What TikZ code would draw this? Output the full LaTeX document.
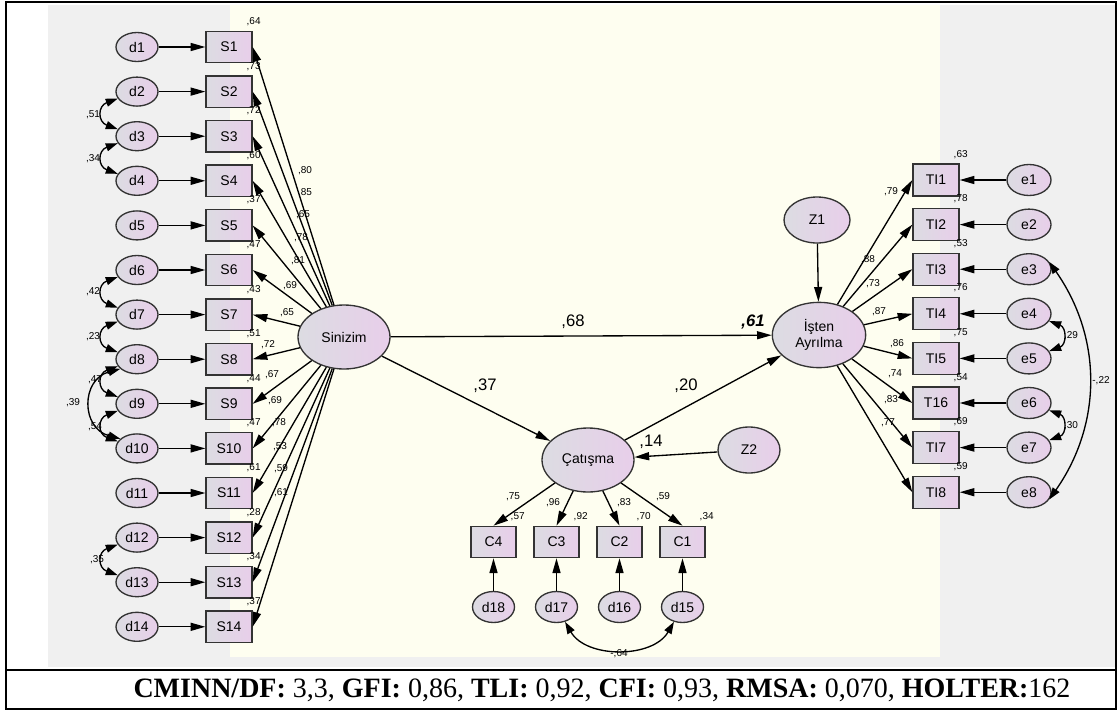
\documentclass[tikz,border=0pt]{standalone}
\usepackage{fontspec}
\setmainfont{Liberation Sans}
\newfontfamily\footfont{Liberation Serif}
\usetikzlibrary{shapes.geometric, arrows.meta}

\definecolor{amosgray}{RGB}{220,220,226}
\definecolor{amospink}{RGB}{232,206,234}
\definecolor{panelgray}{RGB}{240,240,240}
\definecolor{panelyellow}{RGB}{254,254,240}

\begin{document}
\begin{tikzpicture}[
    x=0.75pt, y=-0.75pt,
    lat/.style={ellipse, draw=black!80, line width=1pt, left color=amosgray, right color=amospink, inner sep=0pt, align=center, font=\fontsize{10.5}{11.5}\selectfont},
    err/.style={lat, minimum width=31.5pt, minimum height=21.75pt},
    obs/.style={rectangle, draw=black!80, line width=1pt, left color=amosgray, right color=amospink, minimum width=34.5pt, minimum height=23.5pt, inner sep=0pt, font=\fontsize{10.5}{11.5}\selectfont},
    arrow/.style={->, line width=1pt, >={Triangle[length=11pt, width=6pt]}},
    cov/.style={<->, line width=1pt, >={Triangle[length=9pt, width=6pt]}},
    lbl/.style={font=\fontsize{7.5}{8.5}\selectfont, inner sep=0pt},
    coef/.style={font=\fontsize{12.5}{14}\selectfont, inner sep=0pt}
]
    \useasboundingbox (0,0) rectangle (1117,711);

    % Panels and frame
    \fill[panelgray] (48,5) rectangle (1115,667);
    \fill[panelyellow] (230,5) rectangle (940,657);
    \draw[line width=2.2pt] (6,2) rectangle (1116,709);
    \draw[line width=1.5pt] (6,670) -- (1116,670);

    % Latent variables
    \node[lat, minimum width=69pt, minimum height=48pt] (sin) at (344,337) {Sinizim};
    \node[lat, minimum width=69pt, minimum height=48pt] (cat) at (588,460) {Çatışma};
    \node[lat, minimum width=70pt, minimum height=49pt] (ist) at (819,335) {İşten\\Ayrılma};
    \node[lat, minimum width=49.5pt, minimum height=34.5pt] (z1) at (817,220) {Z1};
    \node[lat, minimum width=46.5pt, minimum height=34.5pt] (z2) at (749,450) {Z2};

    % Sinizim indicators
    \node[err] (d1) at (137,47) {d1};       \node[obs] (s1) at (229,47) {S1};
    \node[err] (d2) at (137,91.6) {d2};     \node[obs] (s2) at (229,91.6) {S2};
    \node[err] (d3) at (137,136.2) {d3};    \node[obs] (s3) at (229,136.2) {S3};
    \node[err] (d4) at (137,180.8) {d4};    \node[obs] (s4) at (229,180.8) {S4};
    \node[err] (d5) at (137,225.4) {d5};    \node[obs] (s5) at (229,225.4) {S5};
    \node[err] (d6) at (137,270) {d6};      \node[obs] (s6) at (229,270) {S6};
    \node[err] (d7) at (137,314.6) {d7};    \node[obs] (s7) at (229,314.6) {S7};
    \node[err] (d8) at (137,359.2) {d8};    \node[obs] (s8) at (229,359.2) {S8};
    \node[err] (d9) at (137,403.8) {d9};    \node[obs] (s9) at (229,403.8) {S9};
    \node[err] (d10) at (137,448.4) {d10};  \node[obs] (s10) at (229,448.4) {S10};
    \node[err] (d11) at (137,493) {d11};    \node[obs] (s11) at (229,493) {S11};
    \node[err] (d12) at (137,537.6) {d12};  \node[obs] (s12) at (229,537.6) {S12};
    \node[err] (d13) at (137,582.2) {d13};  \node[obs] (s13) at (229,582.2) {S13};
    \node[err] (d14) at (137,626.8) {d14};  \node[obs] (s14) at (229,626.8) {S14};

    % Catisma indicators
    \node[obs, minimum width=33.75pt] (c4) at (493.5,542) {C4};
    \node[obs, minimum width=33.75pt] (c3) at (556.5,542) {C3};
    \node[obs, minimum width=33.75pt] (c2) at (619.5,542) {C2};
    \node[obs, minimum width=33.75pt] (c1) at (682.5,542) {C1};
    \node[err, minimum height=23.25pt] (d18) at (493.5,607) {d18};
    \node[err, minimum height=23.25pt] (d17) at (556.5,607) {d17};
    \node[err, minimum height=23.25pt] (d16) at (619.5,607) {d16};
    \node[err, minimum height=23.25pt] (d15) at (682.5,607) {d15};

    % Isten Ayrilma indicators
    \node[obs, minimum height=24pt] (t1) at (936,180) {TI1};    \node[err, minimum width=33pt, minimum height=23.25pt] (e1) at (1029,180) {e1};
    \node[obs, minimum height=24pt] (t2) at (936,224.6) {TI2};  \node[err, minimum width=33pt, minimum height=23.25pt] (e2) at (1029,224.6) {e2};
    \node[obs, minimum height=24pt] (t3) at (936,269.2) {TI3};  \node[err, minimum width=33pt, minimum height=23.25pt] (e3) at (1029,269.2) {e3};
    \node[obs, minimum height=24pt] (t4) at (936,313.8) {TI4};  \node[err, minimum width=33pt, minimum height=23.25pt] (e4) at (1029,313.8) {e4};
    \node[obs, minimum height=24pt] (t5) at (936,358.4) {TI5};  \node[err, minimum width=33pt, minimum height=23.25pt] (e5) at (1029,358.4) {e5};
    \node[obs, minimum height=24pt] (t6) at (936,403) {T16};    \node[err, minimum width=33pt, minimum height=23.25pt] (e6) at (1029,403) {e6};
    \node[obs, minimum height=24pt] (t7) at (936,447.6) {TI7};  \node[err, minimum width=33pt, minimum height=23.25pt] (e7) at (1029,447.6) {e7};
    \node[obs, minimum height=24pt] (t8) at (936,492.2) {TI8};  \node[err, minimum width=33pt, minimum height=23.25pt] (e8) at (1029,492.2) {e8};

    % Error arrows
    \draw[arrow] (d1) -- (s1);   \draw[arrow] (d2) -- (s2);   \draw[arrow] (d3) -- (s3);
    \draw[arrow] (d4) -- (s4);   \draw[arrow] (d5) -- (s5);   \draw[arrow] (d6) -- (s6);
    \draw[arrow] (d7) -- (s7);   \draw[arrow] (d8) -- (s8);   \draw[arrow] (d9) -- (s9);
    \draw[arrow] (d10) -- (s10); \draw[arrow] (d11) -- (s11); \draw[arrow] (d12) -- (s12);
    \draw[arrow] (d13) -- (s13); \draw[arrow] (d14) -- (s14);
    \draw[arrow] (d18) -- (c4);  \draw[arrow] (d17) -- (c3);  \draw[arrow] (d16) -- (c2);
    \draw[arrow] (d15) -- (c1);
    \draw[arrow] (e1) -- (t1);   \draw[arrow] (e2) -- (t2);   \draw[arrow] (e3) -- (t3);
    \draw[arrow] (e4) -- (t4);   \draw[arrow] (e5) -- (t5);   \draw[arrow] (e6) -- (t6);
    \draw[arrow] (e7) -- (t7);   \draw[arrow] (e8) -- (t8);

    % Loadings
    \draw[arrow] (sin) -- (s1.east);   \draw[arrow] (sin) -- (s2.east);   \draw[arrow] (sin) -- (s3.east);
    \draw[arrow] (sin) -- (s4.east);   \draw[arrow] (sin) -- (s5.east);   \draw[arrow] (sin) -- (s6.east);
    \draw[arrow] (sin) -- (s7.east);   \draw[arrow] (sin) -- (s8.east);   \draw[arrow] (sin) -- (s9.east);
    \draw[arrow] (sin) -- (s10.east);  \draw[arrow] (sin) -- (s11.east);  \draw[arrow] (sin) -- (s12.east);
    \draw[arrow] (sin) -- (s13.east);  \draw[arrow] (sin) -- (s14.east);
    \draw[arrow] (cat) -- (c4.north);  \draw[arrow] (cat) -- (c3.north);
    \draw[arrow] (cat) -- (c2.north);  \draw[arrow] (cat) -- (c1.north);
    \draw[arrow] (ist) -- (t1.west);   \draw[arrow] (ist) -- (t2.west);   \draw[arrow] (ist) -- (t3.west);
    \draw[arrow] (ist) -- (t4.west);   \draw[arrow] (ist) -- (t5.west);   \draw[arrow] (ist) -- (t6.west);
    \draw[arrow] (ist) -- (t7.west);   \draw[arrow] (ist) -- (t8.west);

    % Structural paths
    \draw[arrow] (sin) -- (ist);
    \draw[arrow] (sin) -- (cat);
    \draw[arrow] (cat) -- (ist);
    \draw[arrow] (z1) -- (ist);
    \draw[arrow] (z2) -- (cat);

    % Covariances
    \draw[cov] (d2.200) to[out=200, in=160, looseness=1.8] (d3.160);
    \draw[cov] (d3.200) to[out=200, in=160, looseness=1.8] (d4.160);
    \draw[cov] (d6.200) to[out=200, in=160, looseness=1.8] (d7.160);
    \draw[cov] (d7.200) to[out=200, in=160, looseness=1.8] (d8.160);
    \draw[cov] (d8.200) to[out=200, in=160, looseness=1.8] (d9.160);
    \draw[cov] (d9.200) to[out=200, in=160, looseness=1.8] (d10.160);
    \draw[cov] (d8.210) to[out=195, in=165, looseness=1.5] (d10.150);
    \draw[cov] (d12.200) to[out=200, in=160, looseness=1.8] (d13.160);
    \draw[cov] (e4.-20) to[out=-20, in=20, looseness=1.6] (e5.20);
    \draw[cov] (e6.-20) to[out=-20, in=20, looseness=1.6] (e7.20);
    \draw[cov] (e3.20) to[bend left=35] (e8.-20);
    \draw[cov] (d17.-60) to[bend right=60] (d15.-120);

    % Squared multiple correlations
    \node[lbl] at ([shift={(1,-9)}]s1.north east) {,64};
    \node[lbl] at ([shift={(1,-9)}]s2.north east) {,73};
    \node[lbl] at ([shift={(1,-9)}]s3.north east) {,72};
    \node[lbl] at ([shift={(1,-9)}]s4.north east) {,60};
    \node[lbl] at ([shift={(1,-9)}]s5.north east) {,37};
    \node[lbl] at ([shift={(1,-9)}]s6.north east) {,47};
    \node[lbl] at ([shift={(1,-9)}]s7.north east) {,43};
    \node[lbl] at ([shift={(1,-9)}]s8.north east) {,51};
    \node[lbl] at ([shift={(1,-9)}]s9.north east) {,44};
    \node[lbl] at ([shift={(1,-9)}]s10.north east) {,47};
    \node[lbl] at ([shift={(1,-9)}]s11.north east) {,61};
    \node[lbl] at ([shift={(1,-9)}]s12.north east) {,28};
    \node[lbl] at ([shift={(1,-9)}]s13.north east) {,34};
    \node[lbl] at ([shift={(1,-9)}]s14.north east) {,37};
    \node[lbl] at ([shift={(1,-9)}]c4.north east) {,57};
    \node[lbl] at ([shift={(1,-9)}]c3.north east) {,92};
    \node[lbl] at ([shift={(1,-9)}]c2.north east) {,70};
    \node[lbl] at ([shift={(1,-9)}]c1.north east) {,34};
    \node[lbl] at ([shift={(1,-9)}]t1.north east) {,63};
    \node[lbl] at ([shift={(1,-9)}]t2.north east) {,78};
    \node[lbl] at ([shift={(1,-9)}]t3.north east) {,53};
    \node[lbl] at ([shift={(1,-9)}]t4.north east) {,76};
    \node[lbl] at ([shift={(1,-9)}]t5.north east) {,75};
    \node[lbl] at ([shift={(1,-9)}]t6.north east) {,54};
    \node[lbl] at ([shift={(1,-9)}]t7.north east) {,69};
    \node[lbl] at ([shift={(1,-9)}]t8.north east) {,59};

    % Loading values
    \node[lbl] at (305,171) {,80};
    \node[lbl] at (305,193) {,85};
    \node[lbl] at (303,215) {,65};
    \node[lbl] at (301,238) {,78};
    \node[lbl] at (298,261) {,81};
    \node[lbl] at (290,286) {,69};
    \node[lbl] at (287,313) {,65};
    \node[lbl] at (268,345) {,72};
    \node[lbl] at (272,375) {,67};
    \node[lbl] at (275,401) {,69};
    \node[lbl] at (279,423) {,78};
    \node[lbl] at (280,447) {,53};
    \node[lbl] at (281,469) {,59};
    \node[lbl] at (281,493) {,61};
    \node[lbl] at (513,497) {,75};
    \node[lbl] at (553,503) {,96};
    \node[lbl] at (624,503) {,83};
    \node[lbl] at (663,497) {,59};
    \node[lbl] at (891,192) {,79};
    \node[lbl] at (868,260) {,88};
    \node[lbl] at (873,284) {,73};
    \node[lbl] at (879,312) {,87};
    \node[lbl] at (897,344) {,86};
    \node[lbl] at (895,374) {,74};
    \node[lbl] at (891,400) {,83};
    \node[lbl] at (888,423) {,77};

    % Covariance values
    \node[lbl] at (93,115) {,51};
    \node[lbl] at (93,159) {,34};
    \node[lbl] at (93,292) {,42};
    \node[lbl] at (93,337) {,23};
    \node[lbl] at (95,380) {,47};
    \node[lbl] at (73,403) {,39};
    \node[lbl] at (95,427) {,54};
    \node[lbl] at (97,560) {,35};
    \node[lbl] at (1071,336) {,29};
    \node[lbl] at (1071,426) {,30};
    \node[lbl] at (1101,381) {-,22};
    \node[lbl] at (619,654) {-,64};

    % Path coefficients
    \node[coef] at (573,322) {,68};
    \node[coef] at (485,386) {,37};
    \node[coef] at (686,386) {,20};
    \node[coef] at (651,442) {,14};
    \node[coef] at (753,322) {\textbf{\textit{,61}}};

    % Fit indices
    \node[font=\footfont\fontsize{21}{24}\selectfont, anchor=base, inner sep=0pt] (fit) at (602,697)
        {\textbf{CMINN/DF:} 3,3, \textbf{GFI:} 0,86, \textbf{TLI:} 0,92, \textbf{CFI:} 0,93, \textbf{RMSA:} 0,070, \textbf{HOLTER:}162};
\end{tikzpicture}
\end{document}
